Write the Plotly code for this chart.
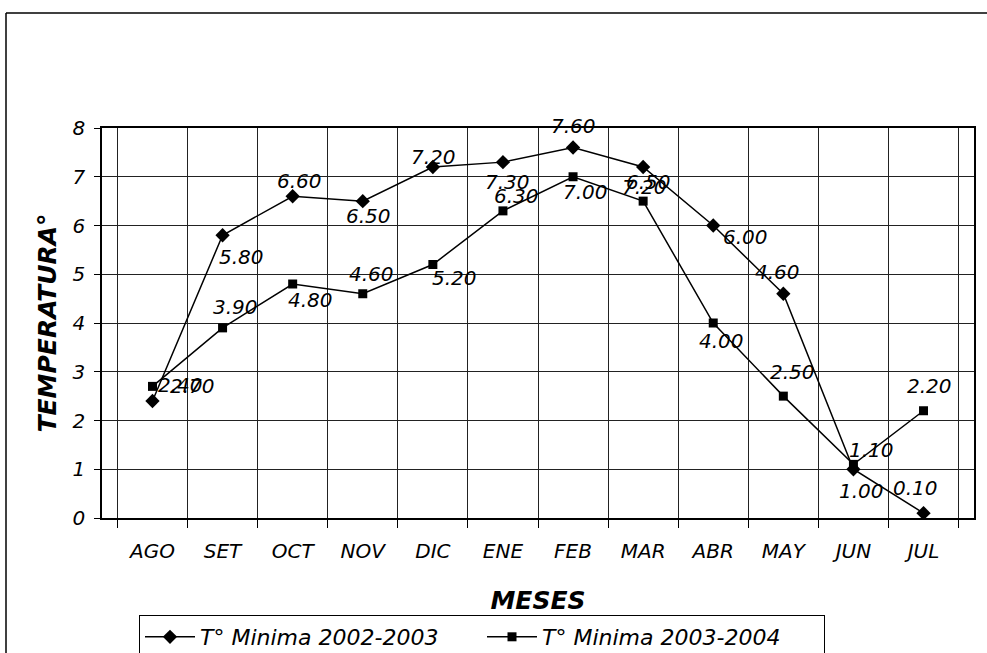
import plotly.graph_objects as go

# ---- data ----
months = ["AGO", "SET", "OCT", "NOV", "DIC", "ENE", "FEB", "MAR", "ABR", "MAY", "JUN", "JUL"]
tmin_2002_2003 = [2.40, 5.80, 6.60, 6.50, 7.20, 7.30, 7.60, 7.20, 6.00, 4.60, 1.00, 0.10]
tmin_2003_2004 = [2.70, 3.90, 4.80, 4.60, 5.20, 6.30, 7.00, 6.50, 4.00, 2.50, 1.10, 2.20]
name_1 = "T° Minima 2002-2003"
name_2 = "T° Minima 2003-2004"
y_ticks = [0, 1, 2, 3, 4, 5, 6, 7, 8]

# ---- label offsets (pixels, styling only) ----
dx_1 = [28, 19, 7, 6, 1, 5, 0, 1, 32, -6, 8, -8]
dy_1 = [16, -22, 15, -15, 10, -20, 22, -20, -11, 22, -22, 25]
dx_2 = [40, 13, 18, 9, 22, 14, 12, 5, 8, 9, 18, 6]
dy_2 = [0, 21, -16, 20, -13, 15, -15, 19, -18, 24, 14, 25]

FONT = "DejaVu Sans"
ital = dict(family=FONT, size=20, color="black", style="italic")
ital_leg = dict(family=FONT, size=22, color="black", style="italic")
title_font = dict(family=FONT, size=25, color="black", style="italic", weight="bold")

fig = go.Figure()
fig.add_trace(go.Scatter(
    x=months, y=tmin_2002_2003, name=name_1, mode="lines+markers",
    line=dict(color="black", width=1.5),
    marker=dict(symbol="diamond", size=11, color="black"),
))
fig.add_trace(go.Scatter(
    x=months, y=tmin_2003_2004, name=name_2, mode="lines+markers",
    line=dict(color="black", width=1.5),
    marker=dict(symbol="square", size=9, color="black"),
))

annotations = []
for vals, dxs, dys in ((tmin_2002_2003, dx_1, dy_1), (tmin_2003_2004, dx_2, dy_2)):
    for m, v, dx, dy in zip(months, vals, dxs, dys):
        annotations.append(dict(
            x=m, y=v, xref="x", yref="y", text=f"{v:.2f}", showarrow=False,
            xshift=dx, yshift=dy, font=ital,
        ))

# outer frame (top and left edges visible in reference)
L, T, R, B = 102, 128, 974, 518
W, H = 987, 653
def px(x):
    return (x - L) / (R - L)
def py(y):
    return (B - y) / (B - T)

shapes = [
    dict(type="line", xref="paper", yref="paper", x0=px(6), x1=px(W + 5), y0=py(13), y1=py(13),
         line=dict(color="black", width=1.5)),
    dict(type="line", xref="paper", yref="paper", x0=px(6), x1=px(6), y0=py(13), y1=py(H + 5),
         line=dict(color="black", width=1.5)),
]

fig.update_layout(
    template="none",
    width=W, height=H, autosize=False,
    margin=dict(l=L, r=W - R, t=T, b=H - B, pad=0, autoexpand=False),
    paper_bgcolor="white", plot_bgcolor="white",
    font=dict(family=FONT, color="black"),
    showlegend=True,
    legend=dict(
        orientation="h", x=px(139), y=py(615), xanchor="left", yanchor="top",
        bordercolor="black", borderwidth=1, font=ital_leg,
        entrywidth=277, entrywidthmode="pixels", bgcolor="white", itemwidth=50,
    ),
    annotations=annotations,
    shapes=shapes,
)
fig.update_xaxes(
    type="category", tickson="boundaries", ticks="outside", ticklen=8, tickcolor="black",
    showgrid=True, gridcolor="#222", gridwidth=1, automargin=False,
    showline=True, linecolor="black", linewidth=1.5, mirror=True,
    tickfont=ital, ticklabelstandoff=14,
    title=dict(text="MESES", font=title_font, standoff=30),
)
fig.update_yaxes(
    range=[0, 8], tickvals=y_ticks, ticks="outside", ticklen=6, tickcolor="black",
    showgrid=True, gridcolor="#222", gridwidth=1, zeroline=False, automargin=False,
    showline=True, linecolor="black", linewidth=1.5, mirror=True,
    tickfont=ital, ticklabelstandoff=5,
    title=dict(text="TEMPERATURA°", font=title_font, standoff=9),
)

fig.write_html(
    "out.html",
    config={"displayModeBar": False},
    post_script="document.body.style.margin='0';document.body.style.overflow='hidden';",
)
